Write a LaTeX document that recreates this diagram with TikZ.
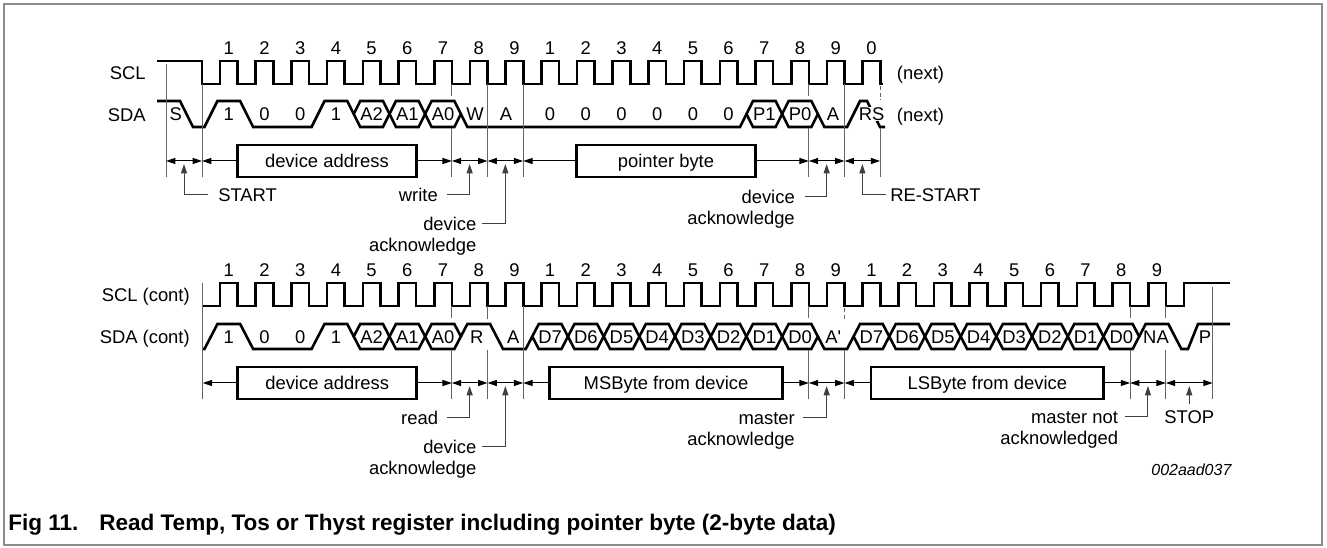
\documentclass[tikz,border=0pt]{standalone}
\usepackage{fontspec}
\setmainfont{Liberation Sans}
\usetikzlibrary{arrows.meta}

\begin{document}
\begin{tikzpicture}[x=0.75pt,y=-0.75pt,
    sig/.style={line width=1.95pt},
    refl/.style={line width=0.75pt, black!60},
    dim/.style={{Stealth[length=7pt,width=4.5pt,inset=0pt]}-{Stealth[length=7pt,width=4.5pt,inset=0pt]}, line width=0.75pt},
    half/.style={-{Stealth[length=7pt,width=4.5pt,inset=0pt]}, line width=0.75pt},
    ptr/.style={-{Stealth[length=7pt,width=4.5pt,inset=0pt]}, line width=0.75pt, black!75},
    lbl/.style={font=\fontsize{13.8}{16}\selectfont, inner sep=0pt, text height=9.9pt, text depth=0pt},
    bytebox/.style={lbl, draw, line width=1.95pt, minimum height=24pt}]
    \useasboundingbox (0,0) rectangle (1327,548); %Delimitador de imagen
    \draw[black!45, line width=1.1pt] (4,4) rectangle (1322,545); %marco

    % ---------- fila 1: escritura del puntero ----------
    \node[lbl, anchor=east] (scl) at (146,73) {SCL};
    \node[lbl, anchor=east] (sda) at (146,115) {SDA};
    \foreach \n [count=\k] in {1,2,3,4,5,6,7,8,9,1,2,3,4,5,6,7,8,9,0}
        \node[lbl] (n\k) at ({193.1+35.7*\k},48) {\n}; %numeros de pulso
    \draw[sig] (157,61) -- (202,61) -- (202,84)
        \foreach \k in {0,...,18} { -- ({220+35.7*\k},84) -- ({220+35.7*\k},61) -- ({237.6+35.7*\k},61) -- ({237.6+35.7*\k},84) }
        -- (883,84); %SCL
    \draw[sig] (157,101) -- (180,101) -- (193,127) -- (204.45,127) -- (217.45,101) -- (240.15,101) -- (253.15,127)
        -- (311.55,127) -- (324.55,101) -- (347.25,101) -- (353.75,114); %SDA, start + 1001
    \draw[sig] (460.85,114) -- (467.35,127) -- (739.95,127) -- (746.45,114); %W, A, 000000
    \draw[sig] (817.85,114) -- (824.35,127) -- (847.05,127) -- (860.05,101) -- (867,101) -- (880,127) -- (885,127); %A, RS
    \foreach \k/\t in {5/A2,6/A1,7/A0,16/P1,17/P0} {
        \pgfmathsetmacro\xa{210.95+35.7*(\k-1)}
        \pgfmathsetmacro\xb{\xa+35.7}
        \draw[sig] (\xa,114) -- (\xa+6.5,101) -- (\xb-6.5,101) -- (\xb,114) -- (\xb-6.5,127) -- (\xa+6.5,127) -- cycle;
        \node[lbl] (h\k) at ({193.1+35.7*\k},114) {\t};
    }
    \foreach \t/\x [count=\i] in {S/175.7,1/228.8,0/264.5,0/300.2,1/335.9,W/475,A/506,0/550.1,0/585.8,0/621.5,0/657.2,0/692.9,0/728.6,A/833}
        \node[lbl] (b\i) at (\x,114) {\t}; %bits
    \node[lbl, fill=white] (rs) at (871.7,114) {RS};
    \node[lbl, anchor=west] (next1) at (896.7,73) {(next)};
    \node[lbl, anchor=west] (next2) at (896.7,115) {(next)};

    \draw[refl] (166,64) -- (166,177);
    \draw[refl] (202,84) -- (202,177);
    \draw[refl] (451.8,84) -- (451.8,96) (451.8,128) -- (451.8,177);
    \draw[refl] (487.5,84) -- (487.5,177);
    \draw[refl] (523.2,84) -- (523.2,177);
    \draw[refl] (808.8,84) -- (808.8,96) (808.8,128) -- (808.8,177);
    \draw[refl] (844.5,84) -- (844.5,177);
    \draw[refl, dash pattern=on 3pt off 2pt] (880.2,86) -- (880.2,100);
    \draw[refl] (880.2,128) -- (880.2,177);

    \foreach \x [count=\i] in {166,202,451.8,487.5,523.2,808.8,844.5,880.2}
        \coordinate (u\i) at (\x,161);
    \node[bytebox, minimum width=134.3pt] (addr1) at (326.9,161) {device address};
    \node[bytebox, minimum width=134.5pt] (ptrbyte) at (666,161) {pointer byte};
    \draw[dim] (u1) -- (u2);
    \draw[half] (addr1) -- (u2);
    \draw[half] (addr1) -- (u3);
    \draw[dim] (u3) -- (u4);
    \draw[dim] (u4) -- (u5);
    \draw[half] (ptrbyte) -- (u5);
    \draw[half] (ptrbyte) -- (u6);
    \draw[dim] (u6) -- (u7);
    \draw[dim] (u7) -- (u8);

    \coordinate (startTip) at (184,164);
    \coordinate (writeTip) at (469.65,164);
    \coordinate (devTipA) at (505.35,164);
    \coordinate (devTipB) at (826.65,164);
    \coordinate (rsTip) at (862.35,164);
    \node[lbl, anchor=west] (start) at (218,195) {START};
    \node[lbl, anchor=east] (write) at (438,195) {write};
    \node[lbl, anchor=east] (devA) at (476.7,224) {device};
    \node[lbl, anchor=east] (ackA) at (476.7,245) {acknowledge};
    \node[lbl, anchor=east] (devB) at (795,197) {device};
    \node[lbl, anchor=east] (ackB) at (795,218) {acknowledge};
    \node[lbl, anchor=west] (restart) at (890,195) {RE-START};
    \draw[ptr] ([xshift=-7.5pt]start.west) -| (startTip);
    \draw[ptr] ([xshift=6.5pt]write.east) -| (writeTip);
    \draw[ptr] ([xshift=4pt]devA.east) -| (devTipA);
    \draw[ptr] ([xshift=7.5pt]devB.east) -| (devTipB);
    \draw[ptr] ([xshift=-3pt]restart.west) -| (rsTip);

    % ---------- fila 2: lectura de los dos bytes ----------
    \node[lbl, anchor=east] (sclc) at (190,295) {SCL (cont)};
    \node[lbl, anchor=east] (sdac) at (190,337) {SDA (cont)};
    \foreach \n [count=\k] in {1,2,3,4,5,6,7,8,9,1,2,3,4,5,6,7,8,9,1,2,3,4,5,6,7,8,9}
        \node[lbl] (m\k) at ({193.1+35.7*\k},270) {\n}; %numeros de pulso
    \draw[sig] (202.7,306)
        \foreach \k in {0,...,26} { -- ({220+35.7*\k},306) -- ({220+35.7*\k},283) -- ({237.6+35.7*\k},283) -- ({237.6+35.7*\k},306) }
        -- (1183.9,306) -- (1183.9,283) -- (1230,283); %SCL (cont)
    \draw[sig] (202.7,349) -- (204.45,349) -- (217.45,324) -- (240.15,324) -- (253.15,349) -- (311.55,349)
        -- (324.55,324) -- (347.25,324) -- (353.75,336.5); %SDA, 1001
    \draw[sig] (460.85,336.5) -- (467.35,324) -- (490.05,324) -- (503.05,349) -- (525.75,349) -- (532.25,336.5); %R, A
    \draw[sig] (817.85,336.5) -- (824.35,349) -- (847.05,349) -- (853.55,336.5); %A'
    \draw[sig] (1139.15,336.5) -- (1145.65,324) -- (1168.35,324) -- (1181.35,349) -- (1188,349) -- (1198,324) -- (1230,324); %NA, P
    \foreach \k/\t in {5/A2,6/A1,7/A0,10/D7,11/D6,12/D5,13/D4,14/D3,15/D2,16/D1,17/D0,19/D7,20/D6,21/D5,22/D4,23/D3,24/D2,25/D1,26/D0} {
        \pgfmathsetmacro\xa{210.95+35.7*(\k-1)}
        \pgfmathsetmacro\xb{\xa+35.7}
        \draw[sig] (\xa,336.5) -- (\xa+6.5,324) -- (\xb-6.5,324) -- (\xb,336.5) -- (\xb-6.5,349) -- (\xa+6.5,349) -- cycle;
        \node[lbl] (g\k) at ({193.1+35.7*\k},337) {\t};
    }
    \foreach \t/\x [count=\i] in {1/228.8,0/264.5,0/300.2,1/335.9,R/476.7,A/513.3,A\textquotesingle/833.3,NA/1156,P/1205}
        \node[lbl] (d\i) at (\x,337) {\t}; %bits

    \draw[refl] (202.7,283) -- (202.7,399);
    \draw[refl] (451.8,306) -- (451.8,318) (451.8,350) -- (451.8,399);
    \draw[refl] (487.5,306) -- (487.5,319) (487.5,350) -- (487.5,399);
    \draw[refl] (523.2,306) -- (523.2,399);
    \draw[refl] (808.8,306) -- (808.8,318) (808.8,350) -- (808.8,399);
    \draw[refl, dash pattern=on 3pt off 2pt] (844.5,308) -- (844.5,320);
    \draw[refl] (844.5,350) -- (844.5,399);
    \draw[refl] (1130.1,306) -- (1130.1,318) (1130.1,350) -- (1130.1,399);
    \draw[refl] (1165.8,306) -- (1165.8,318) (1165.8,350) -- (1165.8,399);
    \draw[refl] (1212.7,287) -- (1212.7,399);

    \foreach \x [count=\i] in {202.7,451.8,487.5,523.2,808.8,844.5,1130.1,1165.8,1212.7}
        \coordinate (v\i) at (\x,383);
    \node[bytebox, minimum width=134.3pt] (addr2) at (327.2,383) {device address};
    \node[bytebox, minimum width=174.5pt] (msb) at (666,383) {MSByte from device};
    \node[bytebox, minimum width=174.2pt] (lsb) at (987.3,383) {LSByte from device};
    \draw[half] (addr2) -- (v1);
    \draw[half] (addr2) -- (v2);
    \draw[dim] (v2) -- (v3);
    \draw[dim] (v3) -- (v4);
    \draw[half] (msb) -- (v4);
    \draw[half] (msb) -- (v5);
    \draw[dim] (v5) -- (v6);
    \draw[half] (lsb) -- (v6);
    \draw[half] (lsb) -- (v7);
    \draw[dim] (v7) -- (v8);
    \draw[dim] (v8) -- (v9);

    \coordinate (readTip) at (469.65,386);
    \coordinate (devTipC) at (505.35,386);
    \coordinate (mackTip) at (826.65,386);
    \coordinate (mnackTip) at (1147.95,386);
    \coordinate (stopTip) at (1189.25,386);
    \node[lbl, anchor=east] (read) at (438.3,418) {read};
    \node[lbl, anchor=east] (devC) at (476.7,447) {device};
    \node[lbl, anchor=east] (ackC) at (476.7,468) {acknowledge};
    \node[lbl, anchor=east] (mast) at (795,418) {master};
    \node[lbl, anchor=east] (ackD) at (795,439) {acknowledge};
    \node[lbl, anchor=east] (mnot) at (1118.3,417) {master not};
    \node[lbl, anchor=east] (ackE) at (1118.3,438) {acknowledged};
    \node[lbl] (stop) at (1189.25,417) {STOP};
    \draw[ptr] ([xshift=6.5pt]read.east) -| (readTip);
    \draw[ptr] ([xshift=4pt]devC.east) -| (devTipC);
    \draw[ptr] ([xshift=6pt]mast.east) -| (mackTip);
    \draw[ptr] ([xshift=5pt]mnot.east) -| (mnackTip);
    \draw[ptr] ([yshift=4.5pt]stop.north) -- (stopTip);

    \node[font=\fontsize{12}{14}\selectfont\itshape, inner sep=0pt, anchor=east] (code) at (1231.7,470) {002aad037};
    \node[font=\fontsize{16.9}{20}\selectfont\bfseries, inner sep=0pt, anchor=base west] (fig) at (8,530) {Fig 11.};
    \node[font=\fontsize{16.9}{20}\selectfont\bfseries, inner sep=0pt, anchor=base west] (title) at (99,530) {Read Temp, Tos or Thyst register including pointer byte (2-byte data)};
\end{tikzpicture}
\end{document}
